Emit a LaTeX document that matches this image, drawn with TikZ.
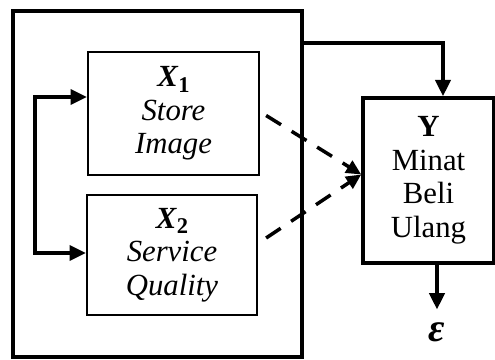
\documentclass[tikz,border=0pt]{standalone}
\usepackage{fontspec}
\setmainfont{Liberation Serif}
\usetikzlibrary{positioning,calc,arrows.meta}

\begin{document}
\begin{tikzpicture}[
		x=0.4pt, y=-0.4pt,
		txt/.style={font=\fontsize{12.3}{13.4}\selectfont},
		varbox/.style={draw, line width=0.9pt, align=center, inner sep=0pt, txt},
		ybox/.style={draw, line width=1.4pt, align=center, inner sep=0pt, txt},
		arr/.style={line width=1.4pt, -{Triangle[length=6.5pt,width=6pt]}},
		darr/.style={line width=1.4pt, dash pattern=on 7pt off 5pt, -{Triangle[length=6pt,width=5.5pt]}}
		]
		\useasboundingbox (0,0) rectangle (495,360);
		
		% ===== kotak luar =====
		\node[draw, line width=1.4pt, minimum width=115.6pt, minimum height=138.4pt, inner sep=0pt] (frame) at (157.5,184) {};
		
		% ===== variabel bebas =====
		\node[varbox, minimum width=68.4pt, minimum height=49.2pt] (X1) at (173.5,113.5)
		{\textbf{\textit{X}}\raisebox{-0.4ex}{\small\bfseries 1}\\ \textit{Store}\\ \textit{Image}};
		\node[varbox, minimum width=68pt, minimum height=48pt] (X2) at (172,255)
		{\textbf{\textit{X}}\raisebox{-0.4ex}{\small\bfseries 2}\\ \textit{Service}\\ \textit{Quality}};
		
		% ===== variabel terikat =====
		\node[ybox, minimum width=52.4pt, minimum height=66pt] (Y) at (428.5,180.5)
		{\textbf{Y}\\ Minat\\ Beli\\ Ulang};
		\node[font=\fontsize{16}{16}\selectfont\bfseries\itshape, inner sep=0pt, anchor=north] (eps) at (437,322) {ε};
		
		% ===== korelasi X1 - X2 =====
		\coordinate (lt) at (35,97);
		\coordinate (lb) at (35,253);
		\draw[arr, {Triangle[length=6.5pt,width=6pt]}-{Triangle[length=6.5pt,width=6pt]}]
		(X1.west |- lt) -- (lt) -- (lb) -- (X2.west |- lb);
		
		% ===== pengaruh =====
		\coordinate (yin) at ($(Y.west)+(0,-6)$);
		\draw[darr] ($(X1.east)+(6,2)$) -- (yin);
		\draw[darr] ($(X2.east)+(8,-17)$) -- (yin);
		\draw[arr] (frame.east |- 0,43) -| ($(Y.north)+(14.5,0)$);
		\draw[arr, shorten >=5pt] (Y.south -| eps) -- (eps.north);
		
	\end{tikzpicture}
\end{document}
